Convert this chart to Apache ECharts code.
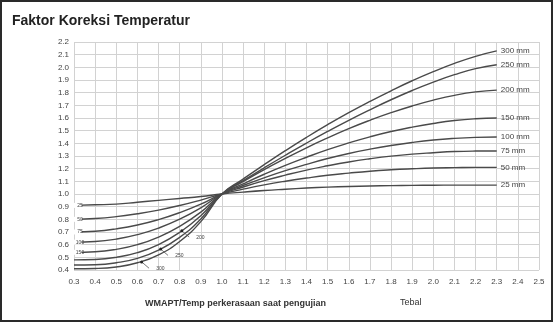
<!DOCTYPE html>
<html>
<head>
<meta charset="utf-8">
<script src="https://cdn.jsdelivr.net/npm/echarts@6/dist/echarts.min.js"></script>
<style>
  html, body { margin: 0; padding: 0; background: #fff; }
  #chart { width: 553px; height: 322px; box-sizing: border-box; border: 2px solid #2a2a2a; }
</style>
</head>
<body>
<div id="chart"></div>
<script>
// x positions of the curve points (WMAPT / temp ratio)
const xs = [0.3, 0.4, 0.5, 0.6, 0.7, 0.8, 0.9, 1.0, 1.1, 1.2, 1.3, 1.4, 1.5, 1.6, 1.7, 1.8, 1.9, 2.0, 2.1, 2.2, 2.3];

// correction factor per thickness
const thick25 = [0.91, 0.915, 0.92, 0.935, 0.95, 0.965, 0.98, 1.0, 1.015, 1.028, 1.038, 1.047, 1.054, 1.059, 1.063, 1.066, 1.068, 1.069, 1.07, 1.07, 1.07];
const thick50 = [0.80, 0.806, 0.821, 0.844, 0.873, 0.909, 0.952, 1.0, 1.038, 1.072, 1.101, 1.126, 1.148, 1.165, 1.180, 1.191, 1.199, 1.205, 1.208, 1.21, 1.21];
const thick75 = [0.70, 0.706, 0.725, 0.755, 0.798, 0.853, 0.92, 1.0, 1.055, 1.105, 1.149, 1.189, 1.223, 1.253, 1.278, 1.299, 1.315, 1.326, 1.335, 1.339, 1.34];
const thick100 = [0.62, 0.625, 0.644, 0.679, 0.731, 0.801, 0.891, 1.0, 1.067, 1.128, 1.184, 1.234, 1.280, 1.320, 1.354, 1.383, 1.407, 1.426, 1.439, 1.447, 1.45];
const thick150 = [0.54, 0.544, 0.563, 0.600, 0.66, 0.745, 0.857, 1.0, 1.080, 1.156, 1.226, 1.290, 1.350, 1.403, 1.451, 1.493, 1.528, 1.557, 1.580, 1.594, 1.60];
const thick200 = [0.48, 0.483, 0.50, 0.537, 0.601, 0.697, 0.828, 1.0, 1.098, 1.193, 1.281, 1.365, 1.443, 1.516, 1.582, 1.642, 1.695, 1.741, 1.779, 1.806, 1.82];
const thick250 = [0.44, 0.442, 0.457, 0.492, 0.557, 0.658, 0.803, 1.0, 1.105, 1.207, 1.306, 1.402, 1.494, 1.582, 1.665, 1.744, 1.817, 1.883, 1.942, 1.99, 2.02];
const thick300 = [0.41, 0.412, 0.424, 0.457, 0.52, 0.625, 0.782, 1.0, 1.118, 1.232, 1.342, 1.447, 1.547, 1.642, 1.731, 1.815, 1.894, 1.966, 2.031, 2.087, 2.13];

const curves = [thick25, thick50, thick75, thick100, thick150, thick200, thick250, thick300];
const endNames = ['25 mm', '50 mm', '75 mm', '100 mm', '150 mm', '200 mm', '250 mm', '300 mm'];
const startNames = ['25', '50', '75', '100', '150', '', '', ''];

// little pointer labels on the steep left part
const leaderNames = ['200', '250', '300'];
const leaderX = [0.81, 0.71, 0.62];
const leaderY = [0.71, 0.565, 0.464];

const chart = echarts.init(document.getElementById('chart'));
const lineColor = '#4a4a4a';

const series = curves.map((vals, i) => {
  const s = {
    name: endNames[i],
    type: 'line',
    smooth: true,
    showSymbol: false,
    silent: true,
    lineStyle: { color: lineColor, width: 1.4 },
    data: xs.map((x, k) => [x, vals[k]]),
    endLabel: {
      show: true,
      formatter: endNames[i],
      fontSize: 8,
      color: '#444',
      distance: 4,
      fontFamily: 'Liberation Sans',
    },
  };
  if (startNames[i]) {
    s.markPoint = {
      symbol: 'rect',
      symbolSize: [9, 5],
      symbolOffset: [3, 0],
      itemStyle: { color: '#fff' },
      label: { show: true, position: 'inside', offset: [3, 0], fontSize: 5, color: '#444', formatter: startNames[i] },
      data: [{ coord: [xs[0], vals[0]] }],
    };
  }
  const li = leaderNames.indexOf(endNames[i].split(' ')[0]);
  if (li >= 0) {
    s.markPoint = {
      symbol: 'circle',
      symbolSize: 3,
      itemStyle: { color: '#222' },
      label: { show: true, position: 'right', offset: [8, 7], fontSize: 5, color: '#444', formatter: leaderNames[li] },
      data: [{ coord: [leaderX[li], leaderY[li]] }],
    };
    s.markLine = {
      symbol: 'none',
      silent: true,
      lineStyle: { color: '#555', width: 0.8, type: 'solid' },
      label: { show: false },
      data: [[{ coord: [leaderX[li], leaderY[li]] }, { coord: [leaderX[li] + 0.035, leaderY[li] - 0.05] }]],
    };
  }
  return s;
});

const option = {
  animation: false,
  backgroundColor: '#fff',
  textStyle: { fontFamily: 'Liberation Sans' },
  title: {
    text: 'Faktor Koreksi Temperatur',
    left: 5,
    top: 7,
    textStyle: { fontSize: 14, fontWeight: 'bold', color: '#222' },
  },
  grid: { left: 72, right: 12, top: 40, bottom: 50 },
  xAxis: {
    type: 'value',
    min: 0.3,
    max: 2.5,
    interval: 0.1,
    axisLine: { show: false },
    axisTick: { show: false },
    axisLabel: {
      fontSize: 8,
      color: '#444',
      margin: 8,
      showMinLabel: true,
      showMaxLabel: true,
      formatter: (v) => v.toFixed(1),
    },
    splitLine: { show: true, lineStyle: { color: '#d2d2d2', width: 1 } },
  },
  yAxis: {
    type: 'value',
    min: 0.4,
    max: 2.2,
    interval: 0.1,
    axisLine: { show: false },
    axisTick: { show: false },
    axisLabel: {
      fontSize: 8,
      color: '#444',
      margin: 5,
      formatter: (v) => v.toFixed(1),
    },
    splitLine: { show: true, lineStyle: { color: '#d2d2d2', width: 1 } },
  },
  graphic: [
    {
      type: 'text',
      left: 143,
      top: 297,
      style: { text: 'WMAPT/Temp perkerasaan saat pengujian', fontSize: 9, fontWeight: 'bold', fill: '#333', fontFamily: 'Liberation Sans' },
    },
    {
      type: 'text',
      left: 398,
      top: 296,
      style: { text: 'Tebal', fontSize: 9, fill: '#333', fontFamily: 'Liberation Sans' },
    },
  ],
  series: series,
};

chart.setOption(option);
</script>
</body>
</html>
